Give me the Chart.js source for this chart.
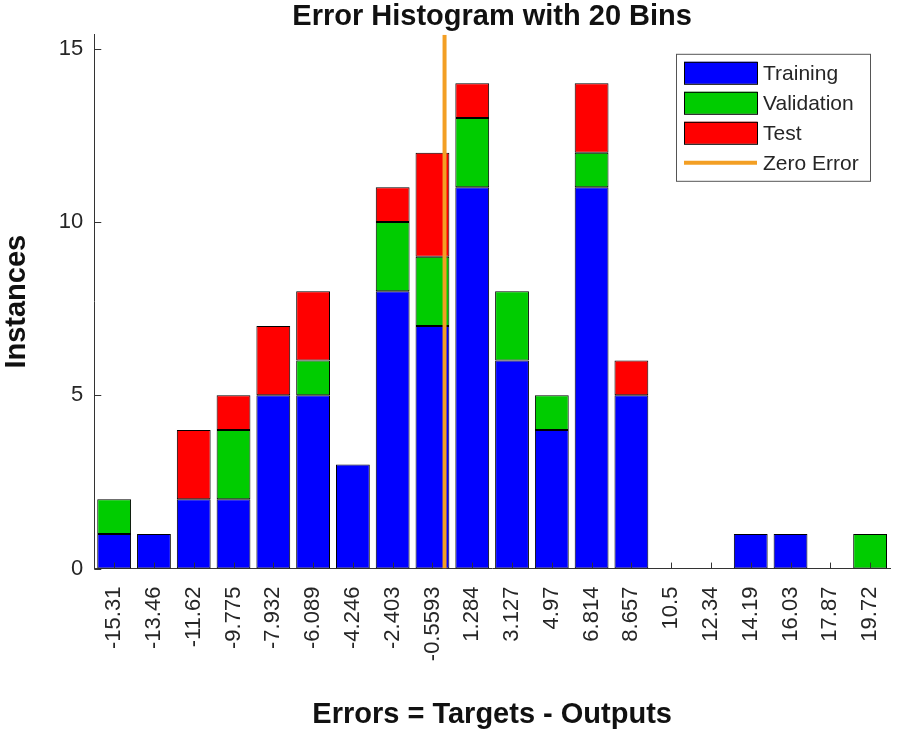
<!DOCTYPE html>
<html>
<head>
<meta charset="utf-8">
<script src="https://cdn.jsdelivr.net/npm/chart.js@4.4.1/dist/chart.umd.min.js"></script>
<style>
  html, body { margin: 0; padding: 0; background: #ffffff; }
  #wrap { width: 897px; height: 734px; }
</style>
</head>
<body>
<div id="wrap"><canvas id="histograma"></canvas></div>
<script>
// rótulos das barras (centro de cada bin)
const binLabels = ['-15.31', '-13.46', '-11.62', '-9.775', '-7.932', '-6.089', '-4.246', '-2.403', '-0.5593',
    '1.284', '3.127', '4.97', '6.814', '8.657', '10.5', '12.34', '14.19', '16.03', '17.87', '19.72'];
const binCenters = [-15.31, -13.46, -11.62, -9.775, -7.932, -6.089, -4.246, -2.403, -0.5593,
    1.284, 3.127, 4.97, 6.814, 8.657, 10.5, 12.34, 14.19, 16.03, 17.87, 19.72];

const training   = [1, 1, 2, 2, 5, 5, 3, 8, 7, 11, 6, 4, 11, 5, 0, 0, 1, 1, 0, 0];
const validation = [1, 0, 0, 2, 0, 1, 0, 2, 2, 2, 2, 1, 1, 0, 0, 0, 0, 0, 0, 1];
const test       = [0, 0, 2, 1, 2, 2, 0, 1, 3, 1, 0, 0, 2, 1, 0, 0, 0, 0, 0, 0];

const zeroError = 0;
const yTicks = [0, 5, 10, 15];
const yMax = 15.4;

const fonte = "'Liberation Sans', Arial, Helvetica, sans-serif";
const corEixo = '#333333';

// largura de um bin, para alinhar o eixo linear escondido com as categorias
const passo = (binCenters[binCenters.length - 1] - binCenters[0]) / (binCenters.length - 1);

function semZero(arr) {
    return arr.map(v => v === 0 ? null : v);
}

// ticks para dentro e a caixa da legenda, estilo MATLAB
const extrasMatlab = {
    id: 'extrasMatlab',
    afterDraw(chart) {
        const ctx = chart.ctx;
        const area = chart.chartArea;
        const x = chart.scales.x;
        const y = chart.scales.y;

        ctx.save();
        ctx.strokeStyle = corEixo;
        ctx.lineWidth = 1;
        ctx.beginPath();
        for (var i = 0; i < yTicks.length; i++) {
            const py = Math.round(y.getPixelForValue(yTicks[i])) + 0.5;
            ctx.moveTo(area.left, py);
            ctx.lineTo(area.left + 7, py);
        }
        for (var j = 0; j < binLabels.length; j++) {
            const px = Math.round(x.getPixelForValue(j)) + 0.5;
            ctx.moveTo(px, area.bottom);
            ctx.lineTo(px, area.bottom - 6);
        }
        ctx.stroke();

        // legenda
        const boxW = 194, boxH = 127;
        const bx = area.right - 20 - boxW;
        const by = area.top + 19;
        ctx.fillStyle = '#ffffff';
        ctx.fillRect(bx, by, boxW, boxH);
        ctx.strokeStyle = '#555555';
        ctx.strokeRect(bx + 0.5, by + 0.5, boxW, boxH);

        ctx.font = '21px ' + fonte;
        ctx.textBaseline = 'middle';
        ctx.textAlign = 'left';
        const ds = chart.data.datasets;
        for (var k = 0; k < ds.length; k++) {
            const cy = by + 19 + k * 30;
            if (ds[k].type === 'line') {
                ctx.strokeStyle = ds[k].borderColor;
                ctx.lineWidth = 4;
                ctx.beginPath();
                ctx.moveTo(bx + 8, cy);
                ctx.lineTo(bx + 81, cy);
                ctx.stroke();
            } else {
                ctx.fillStyle = ds[k].backgroundColor;
                ctx.fillRect(bx + 8, cy - 11, 73, 22);
                ctx.strokeStyle = '#000000';
                ctx.lineWidth = 1;
                ctx.strokeRect(bx + 8.5, cy - 10.5, 73, 22);
            }
            ctx.fillStyle = '#262626';
            ctx.fillText(ds[k].label, bx + 87, cy + 1);
        }
        ctx.restore();
    }
};

const dados = {
    labels: binLabels,
    datasets: [
        {
            label: 'Training',
            data: semZero(training),
            backgroundColor: 'rgb(0, 0, 255)',
            borderColor: '#000000',
            borderWidth: 1,
            borderSkipped: false,
            grouped: false
        },
        {
            label: 'Validation',
            data: semZero(validation),
            backgroundColor: 'rgb(0, 204, 0)',
            borderColor: '#000000',
            borderWidth: 1,
            borderSkipped: false,
            grouped: false
        },
        {
            label: 'Test',
            data: semZero(test),
            backgroundColor: 'rgb(255, 0, 0)',
            borderColor: '#000000',
            borderWidth: 1,
            borderSkipped: false,
            grouped: false
        },
        {
            type: 'line',
            label: 'Zero Error',
            data: [{ x: zeroError, y: 0 }, { x: zeroError, y: yMax }],
            xAxisID: 'xz',
            borderColor: 'rgb(243, 159, 36)',
            borderWidth: 4,
            pointRadius: 0,
            order: -1
        }
    ]
};

const configuracao = {
    type: 'bar',
    data: dados,
    options: {
        responsive: true,
        maintainAspectRatio: false,
        animation: false,
        barPercentage: 0.85,
        categoryPercentage: 1.0,
        layout: { padding: { left: 0, right: 7, top: 0, bottom: 0 } },
        plugins: {
            legend: { display: false },
            tooltip: { enabled: false },
            title: {
                display: true,
                fullSize: false,
                text: 'Error Histogram with 20 Bins',
                color: '#111111',
                font: { family: fonte, size: 29, weight: 'bold' },
                padding: { top: 0, bottom: 0 }
            }
        },
        scales: {
            x: {
                stacked: true,
                grid: { display: false, drawTicks: false },
                border: { display: true, color: corEixo, width: 1 },
                ticks: {
                    autoSkip: false,
                    maxRotation: 90,
                    minRotation: 90,
                    padding: 18,
                    color: '#262626',
                    font: { family: fonte, size: 22 }
                },
                afterFit: function (escala) {
                    // sem folga extra à direita/esquerda por causa dos rótulos girados
                    escala.paddingLeft = 0;
                    escala.paddingRight = 0;
                },
                title: {
                    display: true,
                    text: 'Errors = Targets - Outputs',
                    color: '#111111',
                    font: { family: fonte, size: 29, weight: 'bold' },
                    padding: { top: 18, bottom: 2 }
                }
            },
            xz: {
                type: 'linear',
                display: false,
                offset: false,
                min: binCenters[0] - passo / 2,
                max: binCenters[binCenters.length - 1] + passo / 2
            },
            y: {
                stacked: true,
                min: 0,
                max: yMax,
                afterBuildTicks: function (escala) {
                    escala.ticks = yTicks.map(v => ({ value: v }));
                },
                grid: { display: false, drawTicks: false },
                border: { display: true, color: corEixo, width: 1 },
                ticks: {
                    padding: 11,
                    color: '#262626',
                    font: { family: fonte, size: 22 }
                },
                title: {
                    display: true,
                    text: 'Instances',
                    color: '#111111',
                    font: { family: fonte, size: 29, weight: 'bold' },
                    padding: { top: 0, bottom: 13 }
                }
            }
        }
    },
    plugins: [extrasMatlab]
};

var graficoHistograma = new Chart(document.getElementById('histograma'), configuracao);
</script>
</body>
</html>
